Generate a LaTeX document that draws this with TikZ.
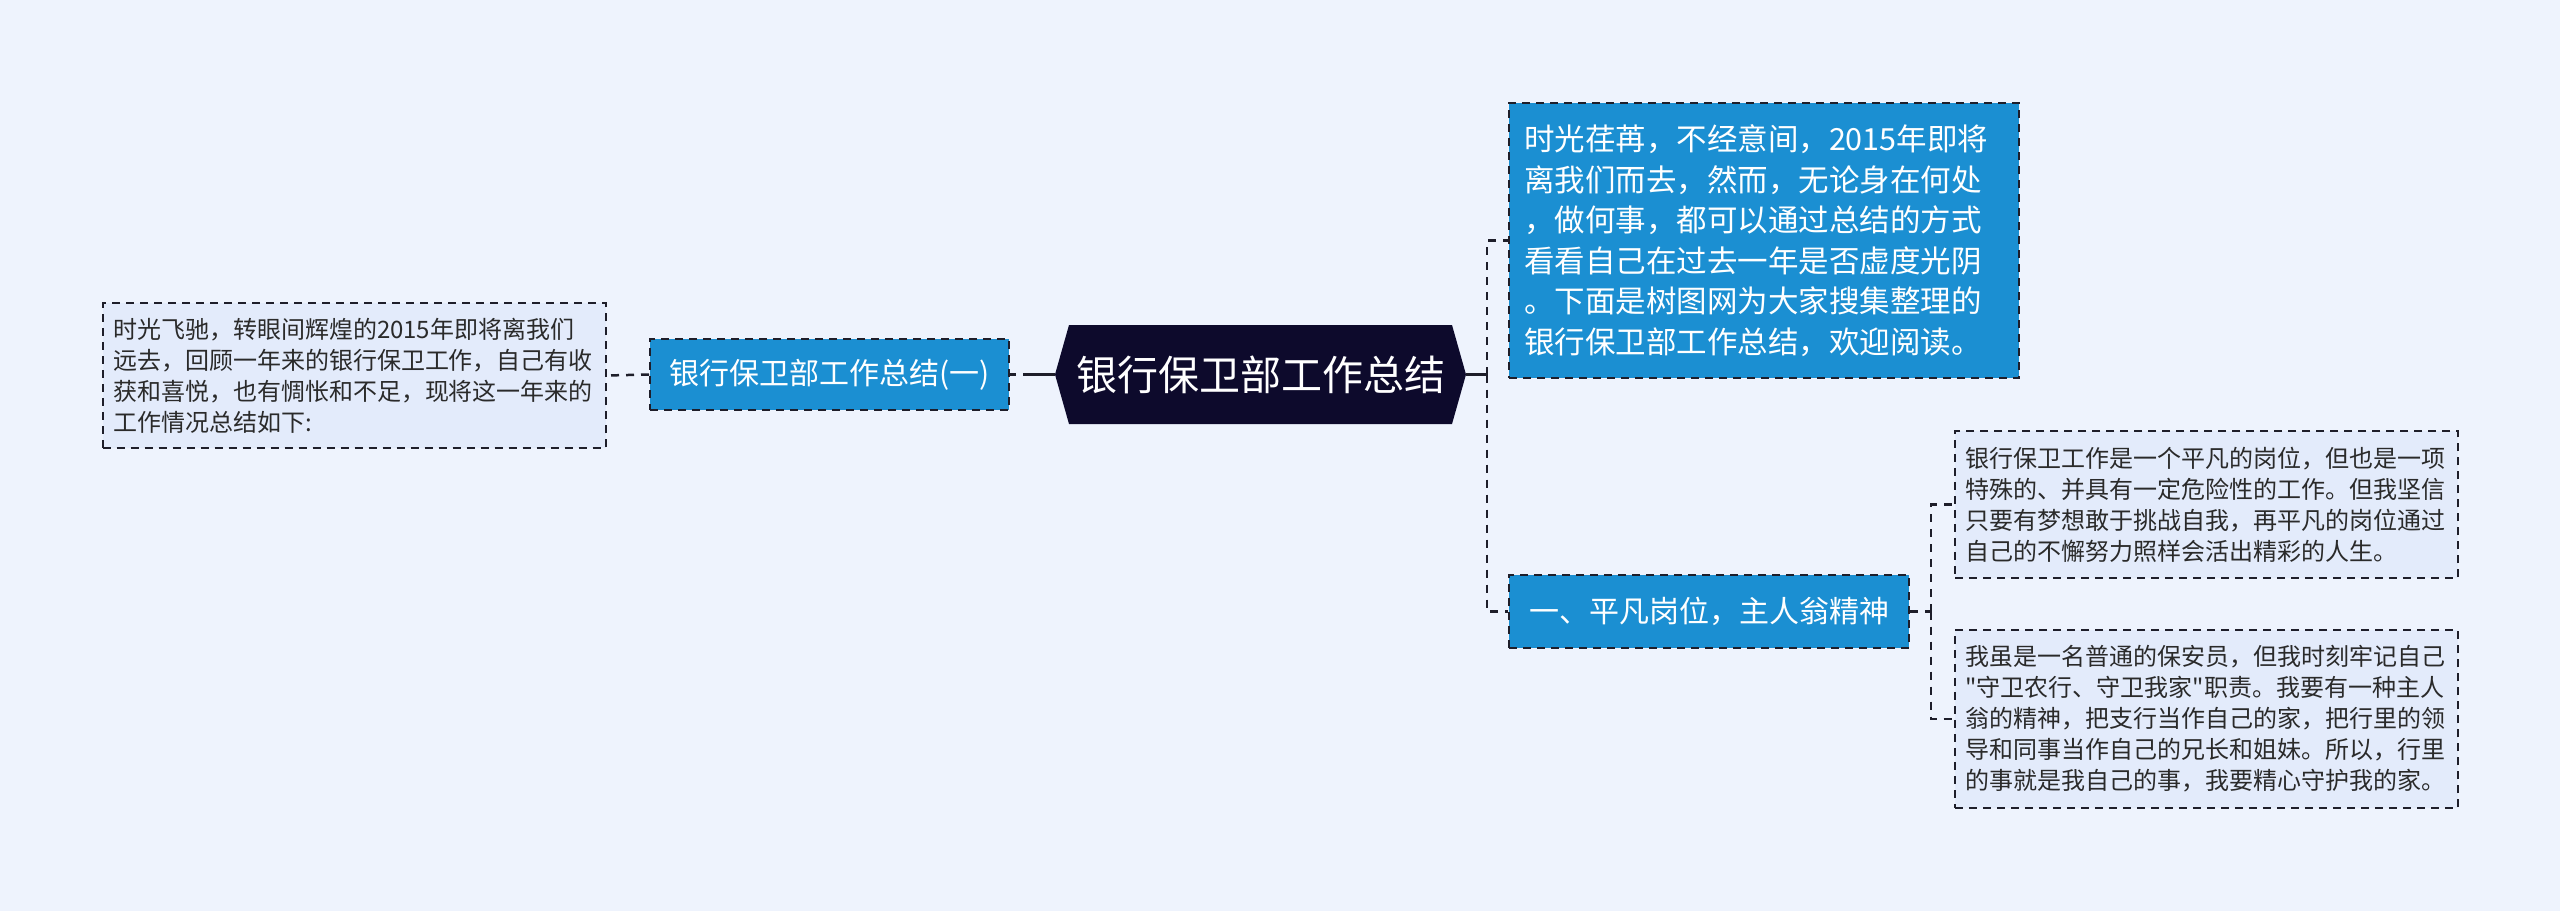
\documentclass[tikz,border=0pt]{standalone}
\usepackage{fontspec}
\setmainfont{Noto Sans CJK SC}
\newfontfamily\plainfont{Noto Sans CJK SC}
\definecolor{bgc}{HTML}{EEF3FD}
\definecolor{leaffill}{HTML}{E3EBFB}
\definecolor{bluec}{HTML}{1B8FD2}
\definecolor{navyc}{HTML}{0D0A2C}
\definecolor{linec}{HTML}{1E1E2A}
\definecolor{textc}{HTML}{2A2A2A}
\begin{document}
\begin{tikzpicture}[x=1pt,y=-1pt,
  conn/.style={line width=2.5pt, draw=linec, dash pattern=on 8pt off 7pt},
  solidconn/.style={line width=2.5pt, draw=linec},
  leafbox/.style={draw=linec, line width=2pt, dash pattern=on 8pt off 6pt, fill=leaffill, text=textc, align=left, inner xsep=10.5pt, inner ysep=0pt, text width=482pt, font=\fontsize{24}{31}\selectfont},
  bluebox/.style={draw=linec, line width=2pt, dash pattern=on 8pt off 6pt, fill=bluec, text=white, inner sep=0pt},
]
\fill[bgc] (0,0) rectangle (2560,911);
\useasboundingbox (0,0) rectangle (2560,911);

% root hexagon
\fill[navyc] (1055,374.5) -- (1069,325) -- (1452,325) -- (1466,374.5) -- (1452,424) -- (1069,424) -- cycle;
\node[text=white, font=\fontsize{41}{48}\selectfont, minimum width=411pt, minimum height=99pt, inner sep=0pt] (root) at (1260.5,374.5) {银行保卫部工作总结};

% left branch
\node[bluebox, minimum width=359pt, minimum height=71pt, font=\fontsize{30}{36}\selectfont] (l1a) at (829.5,374.5) {银行保卫部工作总结(一)};
\node[leafbox, minimum height=145pt] (leafL) at (354,375.5) {时光飞驰，转眼间辉煌的2015年即将离我们\\远去，回顾一年来的银行保卫工作，自己有收\\获和喜悦，也有惆怅和不足，现将这一年来的\\工作情况总结如下:};

% right branch
\node[bluebox, align=left, text width=480pt, inner xsep=15pt, minimum height=275pt, font=\fontsize{30.5}{40.5}\selectfont] (rt) at (1764,240.5) {时光荏苒，不经意间，2015年即将\\离我们而去，然而，无论身在何处\\，做何事，都可以通过总结的方式\\看看自己在过去一年是否虚度光阴\\。下面是树图网为大家搜集整理的\\银行保卫部工作总结，欢迎阅读。};
\node[bluebox, minimum width=400pt, minimum height=73pt, font=\fontsize{30}{36}\selectfont] (l1b) at (1709,611.5) {一、平凡岗位，主人翁精神};

\node[leafbox, minimum height=147pt] (leaf1) at (2206.5,504.5) {银行保卫工作是一个平凡的岗位，但也是一项\\特殊的、并具有一定危险性的工作。但我坚信\\只要有梦想敢于挑战自我，再平凡的岗位通过\\自己的不懈努力照样会活出精彩的人生。};
\node[leafbox, minimum height=178pt, font=\plainfont\fontsize{24}{31}\selectfont] (leaf2) at (2206.5,719) {我虽是一名普通的保安员，但我时刻牢记自己\\"守卫农行、守卫我家"职责。我要有一种主人\\翁的精神，把支行当作自己的家，把行里的领\\导和同事当作自己的兄长和姐妹。所以，行里\\的事就是我自己的事，我要精心守护我的家。};

% connectors
\draw[conn] (l1a.west) -- (leafL.east);
\draw[line width=2.5pt, draw=linec, dash pattern=on 6pt off 7pt on 100pt] (l1a.east) -- (root.west);

\coordinate (s1) at (1487,374.5);
\draw[solidconn] (root.east) -- (s1);
\draw[conn] (s1) |- (rt.west);
\draw[conn] (s1) |- (l1b.west);

\coordinate (s2) at (1931,611.5);
\draw[conn] (l1b.east) -- (s2);
\draw[conn] (s2) |- (leaf1.west);
\draw[conn] (s2) |- (leaf2.west);
\end{tikzpicture}
\end{document}
